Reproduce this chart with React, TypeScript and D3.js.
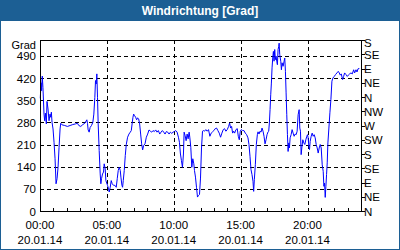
import React from "react";
import * as d3 from "d3";

const TITLE = "Windrichtung [Grad]";
const Y_UNIT = "Grad";
const Y_TICKS = [0, 70, 140, 210, 280, 350, 420, 490];
const COMPASS = ["N", "NE", "E", "SE", "S", "SW", "W", "NW", "N", "NE", "E", "SE", "S"];
const COMPASS_STEP = 45;
const X_TICKS = [0, 5, 10, 15, 20];
const X_TIME_LABELS = ["00:00", "05:00", "10:00", "15:00", "20:00"];
const X_DATE_LABEL = "20.01.14";

// time of day in hours
const HOURS = [
  0.02, 0.08, 0.12, 0.17, 0.22, 0.3, 0.35, 0.4, 0.475, 0.525, 0.6, 0.675, 0.75, 0.8, 0.85, 0.9, 0.975,
  1.05, 1.125, 1.2, 1.275, 1.35, 1.425, 1.5, 1.55, 1.65, 1.85, 2.05, 2.25, 2.45, 2.65, 2.8, 2.9, 3.05,
  3.2, 3.35, 3.5, 3.55, 3.6, 3.675, 3.75, 3.85, 3.95, 4.025, 4.1, 4.15, 4.2, 4.25, 4.3, 4.35, 4.425,
  4.5, 4.55, 4.6, 4.675, 4.75, 4.8, 4.875, 4.925, 5.05, 5.125, 5.175, 5.25, 5.325, 5.4, 5.5, 5.6, 5.7,
  5.775, 5.85, 5.925, 6.0, 6.05, 6.125, 6.175, 6.225, 6.3, 6.375, 6.45, 6.55, 6.65, 6.75, 6.825, 6.9,
  6.95, 7.0, 7.075, 7.15, 7.225, 7.3, 7.375, 7.45, 7.525, 7.6, 7.675, 7.75, 7.85, 7.95, 8.05, 8.15,
  8.25, 8.35, 8.45, 8.55, 8.65, 8.75, 8.85, 8.95, 9.05, 9.15, 9.25, 9.35, 9.45, 9.55, 9.65, 9.75, 9.85,
  9.95, 10.05, 10.15, 10.25, 10.35, 10.425, 10.5, 10.575, 10.65, 10.725, 10.775, 10.85, 10.925, 11.0,
  11.075, 11.15, 11.2, 11.275, 11.35, 11.425, 11.5, 11.55, 11.625, 11.7, 11.775, 11.85, 11.925, 12.0,
  12.075, 12.15, 12.225, 12.3, 12.4, 12.5, 12.6, 12.7, 12.8, 12.9, 13.0, 13.1, 13.2, 13.3, 13.4, 13.5,
  13.6, 13.7, 13.8, 13.9, 14.0, 14.1, 14.175, 14.25, 14.325, 14.4, 14.475, 14.55, 14.65, 14.75, 14.825,
  14.9, 14.975, 15.05, 15.15, 15.25, 15.35, 15.45, 15.55, 15.625, 15.7, 15.775, 15.85, 15.925, 15.975,
  16.025, 16.1, 16.175, 16.25, 16.3, 16.375, 16.45, 16.525, 16.6, 16.675, 16.75, 16.825, 16.9, 16.975,
  17.05, 17.1, 17.15, 17.2, 17.25, 17.3, 17.35, 17.4, 17.45, 17.5, 17.55, 17.6, 17.65, 17.7, 17.75,
  17.8, 17.85, 17.88, 17.925, 18.0, 18.05, 18.1, 18.175, 18.25, 18.3, 18.35, 18.4, 18.45, 18.5, 18.55,
  18.6, 18.65, 18.7, 18.775, 18.85, 18.925, 19.0, 19.075, 19.15, 19.225, 19.3, 19.375, 19.425, 19.475,
  19.525, 19.575, 19.65, 19.725, 19.8, 19.875, 19.95, 20.0, 20.05, 20.1, 20.15, 20.2, 20.275, 20.35,
  20.425, 20.5, 20.575, 20.65, 20.725, 20.8, 20.875, 20.95, 21.025, 21.1, 21.175, 21.225, 21.275,
  21.325, 21.375, 21.425, 21.475, 21.525, 21.6, 21.675, 21.75, 21.825, 21.9, 22.0, 22.1, 22.2, 22.3,
  22.375, 22.45, 22.525, 22.625, 22.7, 22.775, 22.875, 22.975, 23.05, 23.15, 23.25, 23.35, 23.45,
  23.525, 23.625, 23.7, 23.775, 23.875,
];

// wind direction in degrees
const DIRECTION = [
  356, 405, 380, 426, 390, 306, 285, 309, 275, 346, 322, 285, 306, 296, 312, 280, 259,
  217, 165, 86, 102, 138, 201, 259, 277, 272, 270, 267, 270, 273, 275, 277, 270, 267,
  273, 277, 288, 277, 256, 249, 264, 270, 280, 306, 359, 412, 401, 433, 359, 275, 191,
  117, 86, 102, 117, 123, 149, 133, 96, 81, 70, 60, 75, 96, 86, 81, 81, 75,
  102, 128, 138, 128, 107, 81, 75, 96, 128, 175, 210, 233, 243, 249, 254, 280,
  296, 306, 301, 296, 288, 294, 291, 275, 243, 212, 193, 207, 212, 233, 243, 256,
  252, 249, 254, 251, 256, 249, 254, 243, 249, 254, 249, 243, 251, 249, 243, 249, 245,
  249, 251, 254, 249, 233, 217, 180, 159, 138, 180, 249, 238, 222, 243,
  228, 249, 233, 201, 138, 165, 149, 128, 107, 75, 44, 49, 52, 104,
  199, 252, 254, 252, 257, 252, 257, 236, 246, 250, 254, 260, 262, 254, 246, 233,
  246, 257, 260, 252, 257, 267, 278, 262, 267, 246, 252, 246, 257, 260, 236,
  225, 252, 257, 254, 254, 246, 241, 231, 210, 173, 131, 115, 94, 62,
  99, 146, 210, 241, 250, 243, 252, 249, 262, 252, 236, 212, 225, 241,
  250, 252, 278, 320, 367, 404, 452, 483, 504, 473, 510, 478, 489, 473, 462,
  510, 520, 530, 494, 473, 446, 468, 457, 473, 483, 441, 373, 304, 241, 188,
  215, 199, 231, 241, 257, 246, 236, 243, 241, 252, 304, 320, 262, 252,
  178, 199, 225, 215, 210, 225, 236, 241, 231, 204, 194, 220, 236, 246,
  236, 241, 231, 210, 199, 183, 199, 210, 199, 146, 125, 78, 88,
  43, 78, 115, 152, 215, 262, 310, 352, 410, 420, 425, 431, 436, 441,
  436, 429, 433, 415, 425, 436, 431, 425, 429, 433, 436, 433, 446,
  436, 446, 439, 449, 450,
];

const W = 400;
const H = 250;
const FRAME = "#1c5f94";
const LABEL_FONT = "'Liberation Sans', Arial, sans-serif";

export default function App() {
  const left = 40;
  const right = 361;
  const top = 40;
  const bottom = 211;
  const x = d3.scaleLinear().domain([0, 24]).range([left, right]);
  const y = d3.scaleLinear().domain([0, 540]).range([bottom, top]);
  const px = (v: number) => Math.round(v) + 0.5;

  const data = HOURS.map((h, i) => ({ h, v: DIRECTION[i] }));
  const line = d3
    .line<{ h: number; v: number }>()
    .x((d) => x(d.h))
    .y((d) => y(d.v));

  const hourTicks = d3.range(1, 24);
  const compassValues = COMPASS.map((_, i) => i * COMPASS_STEP);

  return (
    <svg
      width={W}
      height={H}
      style={{ position: "absolute", left: 0, top: 0, display: "block" }}
    >
      <rect x={0} y={0} width={W} height={H} fill="#ffffff" />
      <rect x={0.5} y={0.5} width={W - 1} height={H - 1} fill="none" stroke={FRAME} strokeWidth={1} shapeRendering="crispEdges" />
      <rect x={0} y={0} width={W} height={21} fill={FRAME} />
      <text
        x={W / 2}
        y={14.5}
        textAnchor="middle"
        fill="#ffffff"
        fontFamily={LABEL_FONT}
        fontWeight="bold"
        fontSize={12}
      >
        {TITLE}
      </text>

      {/* grid */}
      <g stroke="#000" strokeWidth={1} strokeDasharray="4,3" shapeRendering="crispEdges">
        {Y_TICKS.filter((t) => t > 0).map((t) => (
          <line key={"gy" + t} x1={left} x2={right} y1={px(y(t))} y2={px(y(t))} />
        ))}
        {X_TICKS.filter((t) => t > 0).map((t) => (
          <line key={"gx" + t} x1={px(x(t))} x2={px(x(t))} y1={top} y2={bottom} />
        ))}
      </g>

      {/* data */}
      <path d={line(data) || ""} fill="none" stroke="#0000ff" strokeWidth={1} />

      {/* axes box */}
      <g stroke="#000" strokeWidth={1} shapeRendering="crispEdges">
        <line x1={px(left)} x2={px(left)} y1={top} y2={bottom + 1} />
        <line x1={px(right)} x2={px(right)} y1={top} y2={bottom + 1} />
        <line x1={left} x2={right + 1} y1={px(top)} y2={px(top)} />
        <line x1={left} x2={right + 1} y1={px(bottom)} y2={px(bottom)} />
        {hourTicks.map((t) => (
          <line key={"ht" + t} x1={px(x(t))} x2={px(x(t))} y1={bottom - 3} y2={bottom} />
        ))}
        {compassValues.map((v) => (
          <line key={"ct" + v} x1={right} x2={right + 4} y1={px(y(v))} y2={px(y(v))} />
        ))}
      </g>

      {/* left labels */}
      <g fontFamily={LABEL_FONT} fontSize={11.5} fill="#000">
        <text x={36} y={48.5} textAnchor="end" fontSize={11}>{Y_UNIT}</text>
        {Y_TICKS.map((t) => (
          <text key={"yl" + t} x={36} y={y(t) + 4.5} textAnchor="end">
            {t}
          </text>
        ))}
        {COMPASS.map((c, i) => {
          const v = compassValues[i];
          const yy = Math.max(y(v), top + 2.5);
          return (
            <text key={"cl" + i} x={364} y={yy + 4.5} textAnchor="start">
              {c}
            </text>
          );
        })}
        {X_TICKS.map((t, i) => (
          <g key={"xl" + t}>
            <text x={x(t)} y={229} textAnchor="middle">{X_TIME_LABELS[i]}</text>
            <text x={x(t)} y={243.5} textAnchor="middle">{X_DATE_LABEL}</text>
          </g>
        ))}
      </g>
    </svg>
  );
}
